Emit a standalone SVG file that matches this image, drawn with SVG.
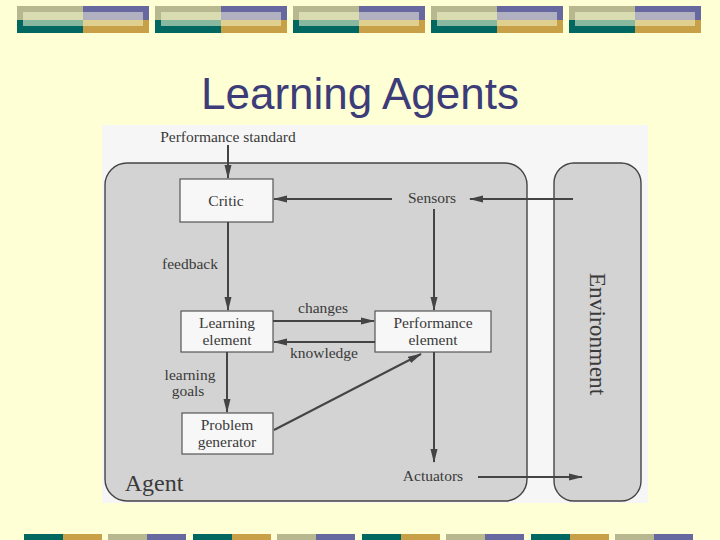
<svg xmlns="http://www.w3.org/2000/svg" width="720" height="540" viewBox="0 0 720 540">
<style>
.lbl{font-family:"Liberation Serif","Times New Roman",serif;font-size:15.5px;fill:#3a3a3a;text-anchor:middle}
.box{fill:#f7f7f7;stroke:#555;stroke-width:1.2}
.region{fill:#d3d3d3;stroke:#444;stroke-width:1.4}
.arr{stroke:#444;stroke-width:2;fill:none;marker-end:url(#ah)}
</style>
<defs>
<marker id="ah" viewBox="0 0 14 8" refX="13" refY="4" markerWidth="14" markerHeight="8" markerUnits="userSpaceOnUse" orient="auto">
<path d="M0,0.5 L14,4 L0,7.5 Z" fill="#444"/>
</marker>
<g id="tb">
<rect x="0" y="0" width="66" height="14" fill="#b8b890"/>
<rect x="66" y="0" width="66" height="14" fill="#6868a0"/>
<rect x="0" y="14" width="66" height="13" fill="#006860"/>
<rect x="66" y="14" width="66" height="13" fill="#c8a048"/>
<rect x="6" y="6" width="60" height="8" fill="#d8dcb0"/>
<rect x="66" y="6" width="60" height="8" fill="#b0b0c0"/>
<rect x="6" y="14" width="60" height="6" fill="#88b8a0"/>
<rect x="66" y="14" width="60" height="6" fill="#e0d090"/>
</g>
<g id="bb">
<rect x="0" y="0" width="39" height="6" fill="#006860"/>
<rect x="39" y="0" width="39" height="6" fill="#c8a048"/>
</g>
<g id="bb2">
<rect x="0" y="0" width="39" height="6" fill="#b8b890"/>
<rect x="39" y="0" width="39" height="6" fill="#6868a0"/>
</g>
</defs>
<rect width="720" height="540" fill="#ffffd5"/>
<g id="banner-top">
<use href="#tb" x="17" y="6"/>
<use href="#tb" x="155" y="6"/>
<use href="#tb" x="293" y="6"/>
<use href="#tb" x="431" y="6"/>
<use href="#tb" x="569" y="6"/>
</g>
<g id="banner-bottom">
<use href="#bb" x="24" y="534"/>
<use href="#bb2" x="108" y="534"/>
<use href="#bb" x="193" y="534"/>
<use href="#bb2" x="277" y="534"/>
<use href="#bb" x="362" y="534"/>
<use href="#bb2" x="446" y="534"/>
<use href="#bb" x="531" y="534"/>
<use href="#bb2" x="615" y="534"/>
</g>
<text x="360" y="109" font-family="'Liberation Sans',Arial,sans-serif" font-size="44" fill="#3c3c78" text-anchor="middle">Learning Agents</text>
<rect x="102" y="125" width="546" height="378" fill="#f6f6f6"/>
<g id="agent">
<rect class="region" x="105" y="163" width="422" height="338" rx="22" ry="22"/>
<text x="154" y="491" font-family="'Liberation Serif','Times New Roman',serif" font-size="24" fill="#3a3a3a" text-anchor="middle">Agent</text>
</g>
<g id="environment">
<rect class="region" x="554" y="163" width="87" height="338" rx="20" ry="20"/>
<text transform="translate(590,334) rotate(90)" font-family="'Liberation Serif','Times New Roman',serif" font-size="23.5" fill="#3a3a3a" text-anchor="middle">Environment</text>
</g>
<g id="performance-standard"><text class="lbl" x="228" y="142">Performance standard</text></g>
<g id="critic">
<rect class="box" x="180" y="179" width="93" height="43"/>
<text class="lbl" x="226" y="206">Critic</text>
</g>
<g id="sensors"><text class="lbl" x="432" y="203">Sensors</text></g>
<g id="learning-element">
<rect class="box" x="181" y="311" width="92" height="41"/>
<text class="lbl" x="227" y="328">Learning</text>
<text class="lbl" x="227" y="345">element</text>
</g>
<g id="performance-element">
<rect class="box" x="375" y="311" width="116" height="41"/>
<text class="lbl" x="433" y="328">Performance</text>
<text class="lbl" x="433" y="345">element</text>
</g>
<g id="problem-generator">
<rect class="box" x="182" y="413" width="91" height="41"/>
<text class="lbl" x="227" y="430">Problem</text>
<text class="lbl" x="227" y="447">generator</text>
</g>
<g id="actuators"><text class="lbl" x="433" y="481">Actuators</text></g>
<g id="connectors">
<line class="arr" x1="228" y1="145" x2="228" y2="178"/>
<line class="arr" x1="392" y1="199" x2="274" y2="199"/>
<line class="arr" x1="573" y1="199" x2="470" y2="199"/>
<line class="arr" x1="434" y1="209" x2="434" y2="310"/>
<line class="arr" x1="228" y1="222" x2="228" y2="310"/>
<text class="lbl" x="190" y="269">feedback</text>
<line class="arr" x1="273" y1="321" x2="374" y2="321"/>
<text class="lbl" x="323" y="313">changes</text>
<line class="arr" x1="375" y1="342" x2="274" y2="342"/>
<text class="lbl" x="324" y="358">knowledge</text>
<line class="arr" x1="227" y1="352" x2="227" y2="412"/>
<text class="lbl" x="190" y="380">learning</text>
<text class="lbl" x="188" y="396">goals</text>
<line class="arr" x1="274" y1="430" x2="421" y2="354"/>
<line class="arr" x1="434" y1="352" x2="434" y2="462"/>
<line class="arr" x1="478" y1="477" x2="582" y2="477"/>
</g>
</svg>
